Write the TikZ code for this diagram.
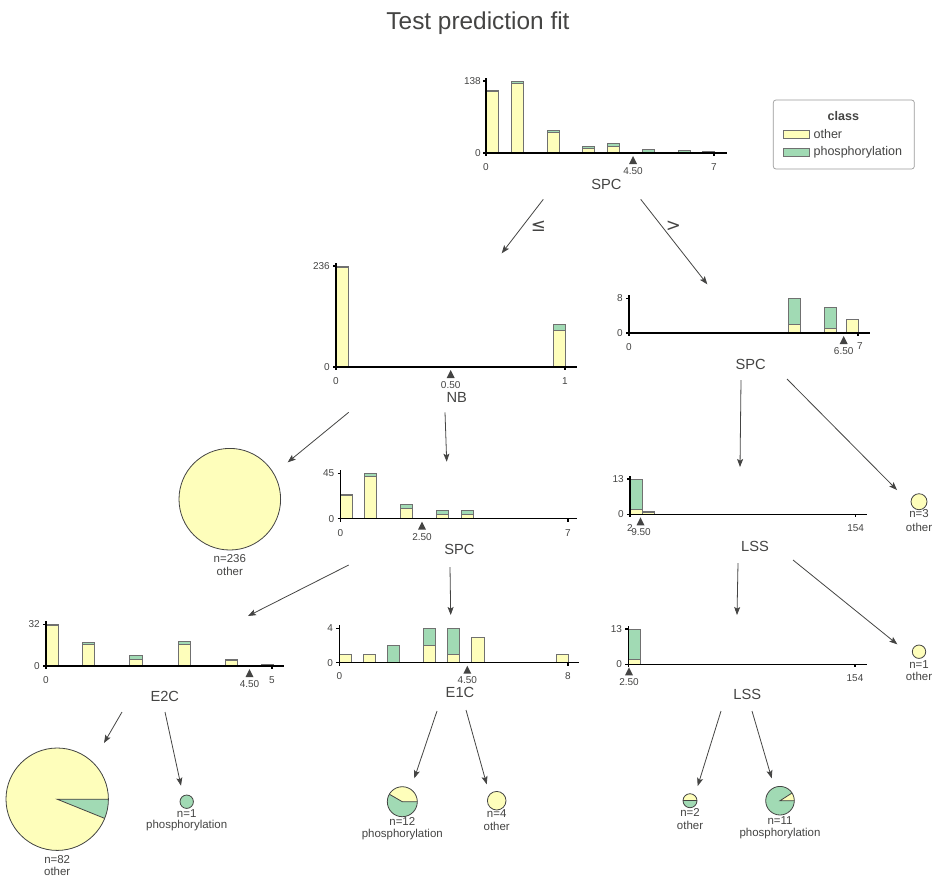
\documentclass[tikz,border=0pt]{standalone}
\usepackage{fontspec}
\setmainfont{Liberation Sans}
\newfontfamily\dejavu{DejaVu Sans}
\usetikzlibrary{arrows.meta}
\definecolor{yel}{HTML}{FEFEBB}
\definecolor{grn}{HTML}{A1DAB4}
\definecolor{txt}{HTML}{444443}
\definecolor{edgeg}{HTML}{707070}
\tikzset{
 axisline/.style={draw=black, line width=0.8pt},
 baredge/.style={draw=edgeg, line width=0.55pt},
 pieedge/.style={draw=txt, line width=0.6pt},
 tick/.style={text=txt, inner sep=0pt, font=\fontsize{7.5}{9}\selectfont},
 feat/.style={text=txt, inner sep=0pt, font=\fontsize{11}{13}\selectfont},
 leaf/.style={text=txt, inner sep=0pt, font=\fontsize{8.6}{10}\selectfont},
 ttl/.style={text=txt, inner sep=0pt, font=\fontsize{18.3}{22}\selectfont},
 leg/.style={text=txt, inner sep=0pt, font=\fontsize{9.4}{11}\selectfont},
 arr/.style={draw=txt, line width=0.6pt, -{Stealth[length=6pt,width=4.5pt,inset=1.2pt]}},
 cmp/.style={text=txt, inner sep=0pt, font=\dejavu\fontsize{13.5}{15}\selectfont},
}
% x0 x1 top yellowtop base
\newcommand\histbar[5]{%
  \fill[yel] (#1,#5) rectangle (#2,#4);
  \fill[grn] (#1,#4) rectangle (#2,#3);
  \draw[baredge] (#1,#5) rectangle (#2,#4);
  \draw[baredge] (#1,#4) rectangle (#2,#3);
}
% x0 base top xmax axisend
\newcommand\histaxis[5]{%
  \draw[axisline] (#1,#3-3) -- (#1,#2) -- (#5,#2);
  \draw[axisline] (#1-3,#3) -- (#1,#3);
  \draw[axisline] (#1-3,#2) -- (#1,#2);
  \draw[axisline] (#1,#2) -- (#1,#2+3);
  \draw[axisline] (#4,#2) -- (#4,#2+3);
}
% x base
\newcommand\thresh[2]{\fill[txt] (#1,#2+3) -- (#1+4,#2+11) -- (#1-4,#2+11) -- cycle;}
% name cx cy r yellowangle
\newcommand\pieleaf[5]{%
  \coordinate (#1) at (#2,#3);
  \fill[grn] (#1) circle[radius=#4];
  \fill[yel] (#1) -- ++(0:#4) arc[start angle=0,end angle=-#5,radius=#4] -- cycle;
  \draw[pieedge] (#1) circle[radius=#4];
  \draw[pieedge] (#1) ++(0:#4) -- (#1) -- ++(-#5:#4);
}
% name cx cy r colour
\newcommand\fullleaf[5]{%
  \coordinate (#1) at (#2,#3);
  \draw[pieedge, fill=#5] (#1) circle[radius=#4];
}
\begin{document}
\begin{tikzpicture}[x=0.75pt,y=-0.75pt]
\useasboundingbox (0,0) rectangle (934,879);
\node[ttl,anchor=base] (title) at (478,29.3) {Test prediction fit};

% ---------- root SPC ----------
\histbar{486.5}{498.5}{90.5}{91.5}{153}
\histbar{511}{523}{81}{83}{153}
\histbar{547}{559}{130}{132}{153}
\histbar{582}{594}{146.3}{148.3}{153}
\histbar{607}{619}{143.3}{146}{153}
\histbar{642}{654}{149.3}{153}{153}
\histbar{678}{690}{150.3}{153}{153}
\histbar{702}{714}{151.3}{153}{153}
\histaxis{486}{153}{81}{714}{727}
\thresh{633}{153}
\node[tick,anchor=east] (ry1) at (481,81) {138};
\node[tick,anchor=east] (ry0) at (481,153) {0};
\node[tick] (rx0) at (486,167) {0};
\node[tick] (rxt) at (633,171) {4.50};
\node[tick] (rx1) at (714,167) {7};
\node[feat] (rootlab) at (606.5,184) {SPC};

% ---------- legend ----------
\draw[draw=gray!80, line width=0.5pt, rounded corners=2pt, fill=white] (773.3,100) rectangle (914.3,169);
\node[leg, font=\bfseries\fontsize{9.4}{11}\selectfont] (legt) at (843.3,116) {class};
\draw[baredge, fill=yel] (783.3,130) rectangle (809,138.3);
\draw[baredge, fill=grn] (783.3,148.3) rectangle (809,156.7);
\node[leg,anchor=west] (leg1) at (813.3,134.3) {other};
\node[leg,anchor=west] (leg2) at (813.3,152.7) {phosphorylation};

% ---------- NB ----------
\histbar{336}{348.5}{266}{267}{367}
\histbar{553}{565}{324.7}{330}{367}
\histaxis{336}{367}{266}{565}{577}
\thresh{450.7}{367}
\node[tick,anchor=east] (ny1) at (330,266) {236};
\node[tick,anchor=east] (ny0) at (330,367) {0};
\node[tick] (nx0) at (336,381) {0};
\node[tick] (nxt) at (450.7,385) {0.50};
\node[tick] (nx1) at (565,381) {1};
\node[feat] (nblab) at (456.7,397.7) {NB};

% ---------- right SPC ----------
\histbar{788}{800}{298.3}{324.3}{333}
\histbar{824}{836}{307}{328.7}{333}
\histbar{846}{858}{319.3}{319.3}{333}
\histaxis{629}{333}{298.3}{858}{870}
\thresh{843.7}{333}
\node[tick,anchor=east] (sy1) at (623,298.3) {8};
\node[tick,anchor=east] (sy0) at (623,333) {0};
\node[tick] (sx0) at (629,347) {0};
\node[tick] (sxt) at (843.7,351) {6.50};
\node[tick] (sx1) at (860,346) {7};
\node[feat] (spcrlab) at (750.7,364) {SPC};

% ---------- middle SPC ----------
\histbar{340.5}{352.7}{494.3}{495.3}{518.7}
\histbar{364.3}{376.7}{473.3}{476.3}{518.7}
\histbar{400.7}{412.7}{504.3}{508}{518.7}
\histbar{436.7}{448.7}{510.3}{514.3}{518.7}
\histbar{461}{473}{510.3}{514.3}{518.7}
\histaxis{340.5}{518.7}{473.3}{568}{577}
\thresh{422}{518.7}
\node[tick,anchor=east] (my1) at (334.5,473.3) {45};
\node[tick,anchor=east] (my0) at (334.5,518.7) {0};
\node[tick] (mx0) at (340.5,532.7) {0};
\node[tick] (mxt) at (422,536.7) {2.50};
\node[tick] (mx1) at (568,532.7) {7};
\node[feat] (spcmlab) at (459.5,549) {SPC};

% ---------- LSS (upper) ----------
\histbar{630}{642}{479}{509}{514.3}
\histbar{642}{654}{511.7}{512.7}{514.3}
\histaxis{630}{514.3}{479}{855.6}{866.5}
\thresh{640.5}{514.3}
\node[tick,anchor=east] (ly1) at (624,479) {13};
\node[tick,anchor=east] (ly0) at (624,514.3) {0};
\node[tick] (lx0) at (630,528.3) {2};
\node[tick] (lxt) at (641,532) {9.50};
\node[tick] (lx1) at (855.6,528.3) {154};
\node[feat] (lsslab) at (755,546) {LSS};

% ---------- LSS (lower) ----------
\histbar{628.3}{640.3}{629}{659.3}{664.3}
\histaxis{628.3}{664.3}{629}{855}{866.7}
\thresh{629}{664.3}
\node[tick,anchor=east] (ky1) at (622.3,629) {13};
\node[tick,anchor=east] (ky0) at (622.3,664.3) {0};
\node[tick] (kxt) at (629,682) {2.50};
\node[tick] (kx1) at (855,678) {154};
\node[feat] (lss2lab) at (747.3,694) {LSS};

% ---------- E2C ----------
\histbar{46}{58}{624.3}{625.5}{666}
\histbar{82}{94.5}{642.7}{644.3}{666}
\histbar{129.5}{142}{655.7}{659}{666}
\histbar{178}{190}{641.7}{644.3}{666}
\histbar{225}{237}{659.3}{660}{666}
\histbar{261}{273}{664.3}{664.3}{666}
\histaxis{46}{666}{624.3}{272}{283.5}
\thresh{249.5}{666}
\node[tick,anchor=east] (ey1) at (40,624.3) {32};
\node[tick,anchor=east] (ey0) at (40,666) {0};
\node[tick] (ex0) at (46,680) {0};
\node[tick] (ext) at (249.5,684) {4.50};
\node[tick] (ex1) at (272,680) {5};
\node[feat] (e2clab) at (164.8,696) {E2C};

% ---------- E1C ----------
\histbar{339.3}{351.7}{654.1}{654.1}{662.7}
\histbar{363.3}{375.7}{654.1}{654.1}{662.7}
\histbar{387.3}{399.7}{645.5}{662.7}{662.7}
\histbar{423.3}{435.7}{628.3}{645.5}{662.7}
\histbar{447.3}{459.7}{628.3}{654.1}{662.7}
\histbar{471.7}{484}{636.9}{636.9}{662.7}
\histbar{556.3}{568.7}{654.1}{654.1}{662.7}
\histaxis{339.3}{662.7}{628.3}{568}{579}
\thresh{467.3}{662.7}
\node[tick,anchor=east] (fy1) at (333.3,628.3) {4};
\node[tick,anchor=east] (fy0) at (333.3,662.7) {0};
\node[tick] (fx0) at (339.3,676) {0};
\node[tick] (fxt) at (467.3,680) {4.50};
\node[tick] (fx1) at (568,676) {8};
\node[feat] (e1clab) at (460,692.5) {E1C};

% ---------- leaves ----------
\fullleaf{L236}{229.8}{499.2}{50.8}{yel}
\node[leaf] (L236n) at (229.8,559) {n=236};
\node[leaf] (L236c) at (229.8,571.7) {other};
\fullleaf{L3}{919}{501.7}{8}{yel}
\node[leaf] (L3n) at (919,514) {n=3};
\node[leaf] (L3c) at (919,527) {other};
\fullleaf{L1o}{919}{651.7}{6.7}{yel}
\node[leaf] (L1on) at (919,664.3) {n=1};
\node[leaf] (L1oc) at (919,676) {other};
\pieleaf{L82}{57.2}{799.2}{51.2}{338}
\node[leaf] (L82n) at (57.2,859.3) {n=82};
\node[leaf] (L82c) at (57.2,871) {other};
\fullleaf{L1p}{186.7}{801.7}{6.7}{grn}
\node[leaf] (L1pn) at (186.7,814) {n=1};
\node[leaf] (L1pc) at (186.7,826) {phosphorylation};
\pieleaf{L12}{402.3}{801.7}{15}{150}
\node[leaf] (L12n) at (402.3,821.7) {n=12};
\node[leaf] (L12c) at (402.3,835) {phosphorylation};
\fullleaf{L4}{496.7}{800.7}{9.3}{yel}
\node[leaf] (L4n) at (496.7,814) {n=4};
\node[leaf] (L4c) at (496.7,826.7) {other};
\pieleaf{L2}{690}{800.7}{7}{180}
\node[leaf] (L2n) at (690,812.7) {n=2};
\node[leaf] (L2c) at (690,825.7) {other};
\pieleaf{L11}{780}{800.7}{14.3}{32.7}
\node[leaf] (L11n) at (780,821) {n=11};
\node[leaf] (L11c) at (780,833.3) {phosphorylation};

% ---------- connectors ----------
\coordinate (a1s) at (543.3,199.3); \coordinate (a1e) at (501.7,253.3);
\coordinate (a2s) at (640.7,199.3); \coordinate (a2e) at (707.3,284.3);
\coordinate (a3s) at (348.7,412.3); \coordinate (a3e) at (287.7,462.3);
\coordinate (a4s) at (445,412.3);   \coordinate (a4e) at (446.7,461.7);
\coordinate (a5s) at (741,380);     \coordinate (a5e) at (740,467);
\coordinate (a6s) at (787,379);     \coordinate (a6e) at (897,490);
\coordinate (a7s) at (348.7,565);   \coordinate (a7e) at (248,616);
\coordinate (a8s) at (450,567);     \coordinate (a8e) at (450.7,615);
\coordinate (a9s) at (738,563);     \coordinate (a9e) at (737,615);
\coordinate (a10s) at (793,560);    \coordinate (a10e) at (897.3,644.3);
\coordinate (a11s) at (122,712);    \coordinate (a11e) at (104,743);
\coordinate (a12s) at (165,712);    \coordinate (a12e) at (181,785.7);
\coordinate (a13s) at (437,711);    \coordinate (a13e) at (414.3,778.3);
\coordinate (a14s) at (466,710);    \coordinate (a14e) at (486.7,784.3);
\coordinate (a15s) at (721,711);    \coordinate (a15e) at (697.7,786);
\coordinate (a16s) at (752,711);    \coordinate (a16e) at (771.7,778.3);
\foreach \i in {1,...,16} { \draw[arr] (a\i s) -- (a\i e); }
\node[cmp] (le) at (538.3,226.7) {≤};
\node[cmp] (gt) at (673.3,226.7) {>};
\end{tikzpicture}
\end{document}
